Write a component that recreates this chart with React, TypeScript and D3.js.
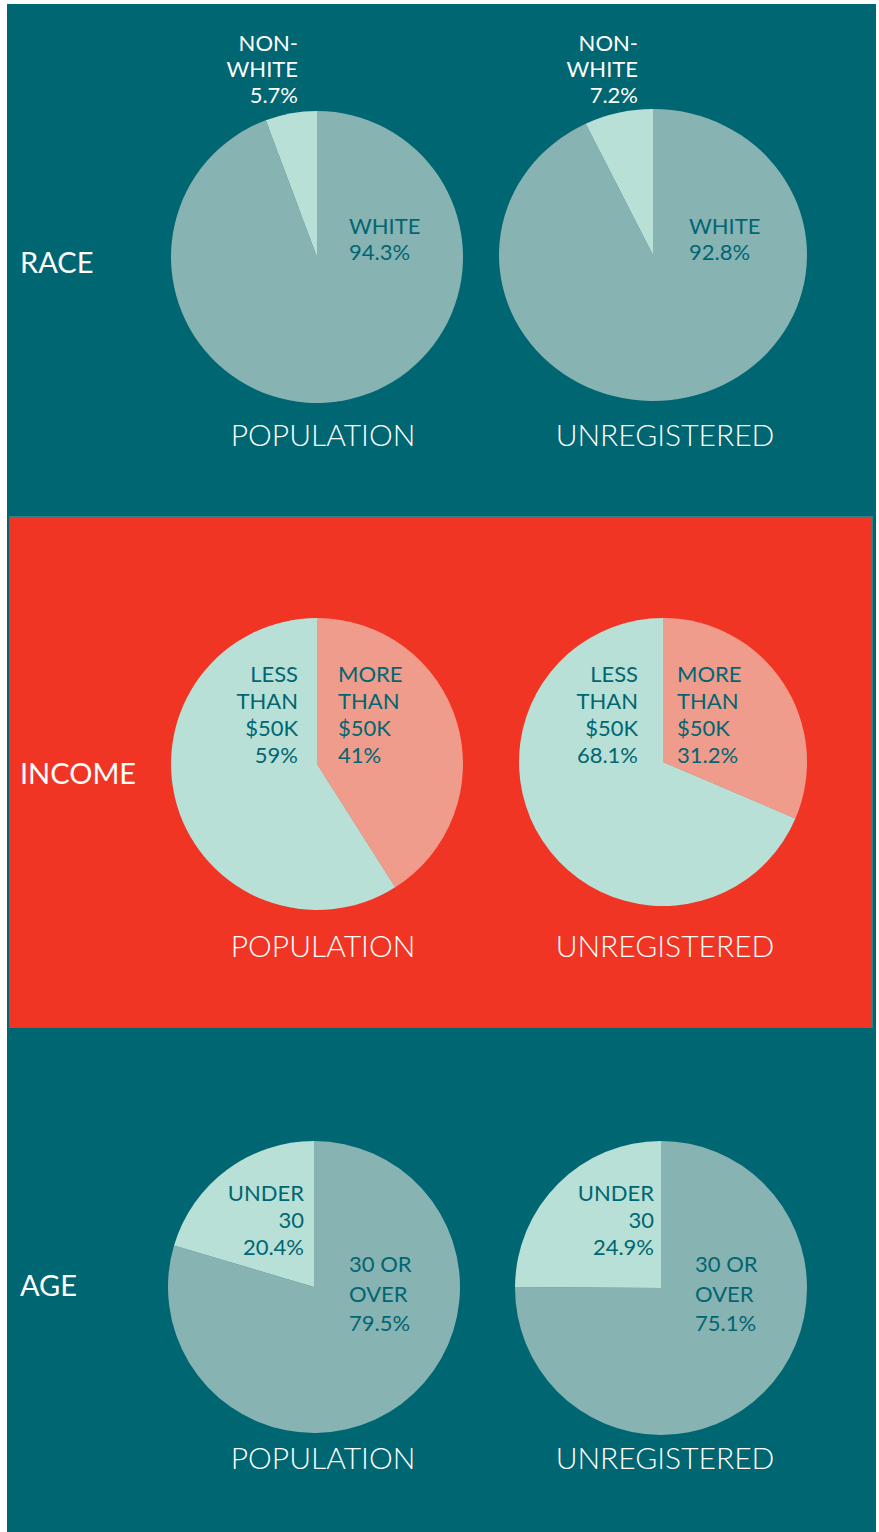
import React from "react";
import * as d3 from "d3";

const sections = ["RACE", "INCOME", "AGE"];
const groups = ["POPULATION", "UNREGISTERED"];

// values per pie: [main slice (clockwise from 12 o'clock), secondary slice]
const raceValues = [
  [94.3, 5.7],
  [92.8, 7.2],
];
const incomeValues = [
  [41, 59],
  [31.2, 68.1],
];
const ageValues = [
  [79.5, 20.4],
  [75.1, 24.9],
];

const raceLabels = [
  ["WHITE", "94.3%"],
  ["NON-", "WHITE", "5.7%"],
  ["WHITE", "92.8%"],
  ["NON-", "WHITE", "7.2%"],
];
const incomeLabels = [
  ["MORE", "THAN", "$50K", "41%"],
  ["LESS", "THAN", "$50K", "59%"],
  ["MORE", "THAN", "$50K", "31.2%"],
  ["LESS", "THAN", "$50K", "68.1%"],
];
const ageLabels = [
  ["30 OR", "OVER", "79.5%"],
  ["UNDER", "30", "20.4%"],
  ["30 OR", "OVER", "75.1%"],
  ["UNDER", "30", "24.9%"],
];

const TEAL = "#006672";
const RED = "#f03524";
const MAIN = "#88b3b3";
const LIGHT = "#b8e0d6";
const SALMON = "#f09c8c";
const FONT = "Lato, 'Open Sans', sans-serif";

type PieSpec = {
  cx: number;
  cy: number;
  rx: number;
  ry: number;
  values: number[];
  colors: string[];
  labels: { lines: string[]; x: number; y: number; anchor: string; fill: string; lh: number }[];
};

export default function App() {
  const pieGen = d3.pie<number>().sort(null).value((d) => d);
  const R = 146;
  const arcGen = d3.arc<d3.PieArcDatum<number>>().innerRadius(0).outerRadius(R);

  const pies: PieSpec[] = [
    {
      cx: 317, cy: 257, rx: 146, ry: 146, values: raceValues[0], colors: [MAIN, LIGHT],
      labels: [
        { lines: raceLabels[0], x: 349, y: 234, anchor: "start", fill: TEAL, lh: 26 },
        { lines: raceLabels[1], x: 298, y: 51, anchor: "end", fill: "#ffffff", lh: 26 },
      ],
    },
    {
      cx: 653, cy: 255, rx: 154, ry: 146, values: raceValues[1], colors: [MAIN, LIGHT],
      labels: [
        { lines: raceLabels[2], x: 689, y: 234, anchor: "start", fill: TEAL, lh: 26 },
        { lines: raceLabels[3], x: 638, y: 51, anchor: "end", fill: "#ffffff", lh: 26 },
      ],
    },
    {
      cx: 317, cy: 764, rx: 146, ry: 146, values: incomeValues[0], colors: [SALMON, LIGHT],
      labels: [
        { lines: incomeLabels[0], x: 338, y: 682, anchor: "start", fill: TEAL, lh: 27 },
        { lines: incomeLabels[1], x: 298, y: 682, anchor: "end", fill: TEAL, lh: 27 },
      ],
    },
    {
      cx: 663, cy: 762, rx: 144, ry: 144, values: incomeValues[1], colors: [SALMON, LIGHT],
      labels: [
        { lines: incomeLabels[2], x: 677, y: 682, anchor: "start", fill: TEAL, lh: 27 },
        { lines: incomeLabels[3], x: 638, y: 682, anchor: "end", fill: TEAL, lh: 27 },
      ],
    },
    {
      cx: 314, cy: 1287, rx: 146, ry: 146, values: ageValues[0], colors: [MAIN, LIGHT],
      labels: [
        { lines: ageLabels[0], x: 349, y: 1272, anchor: "start", fill: TEAL, lh: 29.5 },
        { lines: ageLabels[1], x: 304, y: 1201, anchor: "end", fill: TEAL, lh: 27 },
      ],
    },
    {
      cx: 661, cy: 1288, rx: 146, ry: 147, values: ageValues[1], colors: [MAIN, LIGHT],
      labels: [
        { lines: ageLabels[2], x: 695, y: 1272, anchor: "start", fill: TEAL, lh: 29.5 },
        { lines: ageLabels[3], x: 654, y: 1201, anchor: "end", fill: TEAL, lh: 27 },
      ],
    },
  ];

  const sectionY = [273, 784, 1296];
  const titleY = [446, 957, 1469];
  const titleX = [323, 665];

  return (
    <svg
      width={879}
      height={1532}
      style={{ position: "absolute", left: 0, top: 0 }}
      fontFamily={FONT}
    >
      <rect x={0} y={0} width={879} height={1532} fill="#ffffff" />
      <rect x={7} y={4} width={869} height={1528} fill={TEAL} />
      <rect x={9.5} y={516.5} width={863} height={511} fill={RED} stroke="#2f7f88" strokeWidth={1} />

      {pies.map((p, i) => {
        const arcs = pieGen(p.values);
        return (
          <g key={i}>
            <g transform={`translate(${p.cx},${p.cy}) scale(${p.rx / R},${p.ry / R})`}>
              {arcs.map((a, j) => (
                <path key={j} d={arcGen(a) || ""} fill={p.colors[j]} />
              ))}
            </g>
            {p.labels.map((l, k) => (
              <text key={k} x={l.x} y={l.y} textAnchor={l.anchor} fill={l.fill} fontSize={22}>
                {l.lines.map((ln, m) => (
                  <tspan key={m} x={l.x} y={l.y + m * l.lh}>
                    {ln}
                  </tspan>
                ))}
              </text>
            ))}
          </g>
        );
      })}

      {sections.map((s, i) => (
        <text key={s} x={20} y={sectionY[i]} fill="#ffffff" fontSize={29}>
          {s}
        </text>
      ))}

      {sectionY.map((_, i) =>
        groups.map((g, j) => (
          <text
            key={`${i}-${j}`}
            x={titleX[j]}
            y={titleY[i]}
            textAnchor="middle"
            fill="#ffffff"
            fontSize={30}
            fontWeight={300}
          >
            {g}
          </text>
        ))
      )}
    </svg>
  );
}
